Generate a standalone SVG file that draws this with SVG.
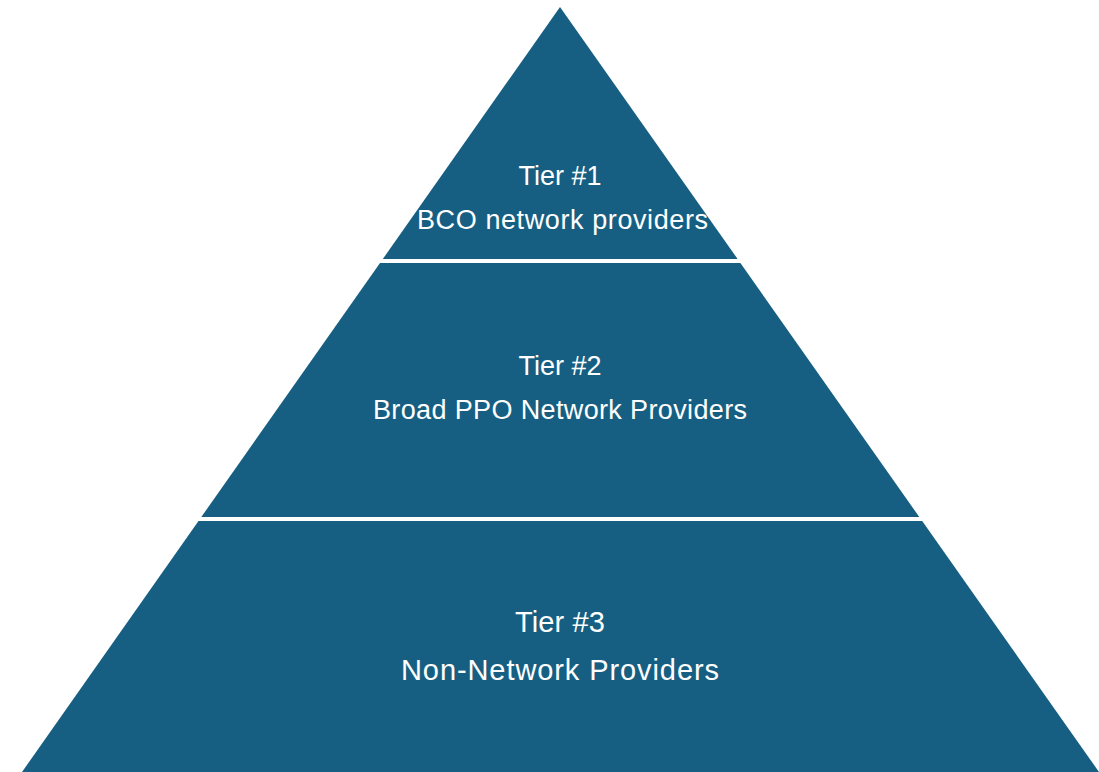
<svg xmlns="http://www.w3.org/2000/svg" width="1099" height="772" viewBox="0 0 1099 772">
<style>
.tier{fill:#175F82;}
.lbl{fill:#FFFFFF;font-family:"Liberation Sans",Arial,sans-serif;font-size:27px;text-anchor:middle;}
.big{font-size:29px;}
</style>
<rect width="1099" height="772" fill="#FFFFFF"/>
<g id="tier1">
<polygon class="tier" points="560,7 382.8,259 737.6,259"/>
<text class="lbl" x="560" y="185">Tier #1</text>
<text class="lbl" x="562.5" y="229" textLength="291" lengthAdjust="spacing">BCO network providers</text>
</g>
<g id="tier2">
<polygon class="tier" points="380,263 740.4,263 919.3,517 201.3,517"/>
<text class="lbl" x="560" y="375">Tier #2</text>
<text class="lbl" x="560" y="419" textLength="374" lengthAdjust="spacing">Broad PPO Network Providers</text>
</g>
<g id="tier3">
<polygon class="tier" points="198.5,521 922.2,521 1099,772 22,772"/>
<text class="lbl big" x="560" y="632" textLength="90" lengthAdjust="spacing">Tier #3</text>
<text class="lbl big" x="560" y="680" textLength="318" lengthAdjust="spacing">Non-Network Providers</text>
</g>
<g id="connectors"></g>
</svg>
